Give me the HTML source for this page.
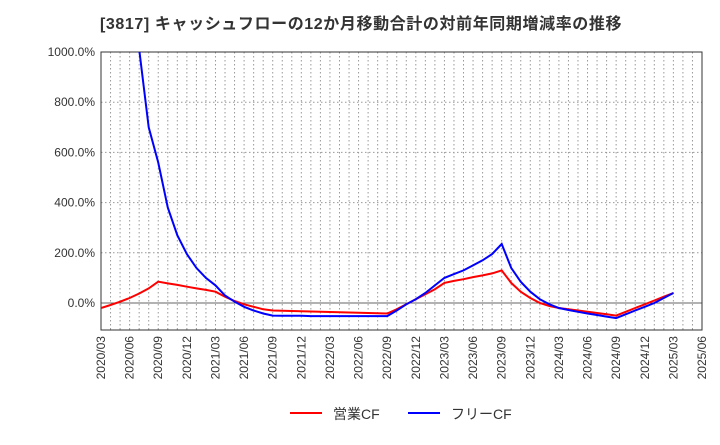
<!DOCTYPE html>
<html><head><meta charset="utf-8">
<style>
body{margin:0;background:#fff;font-family:"Liberation Sans","Noto Sans CJK JP",sans-serif;}
svg text{font-family:"Liberation Sans","Noto Sans CJK JP",sans-serif;}
</style></head>
<body>
<svg id="chart" width="720" height="440">
<text x="100" y="29" font-size="16" letter-spacing="0.6" font-weight="bold" fill="#333">[3817]  キャッシュフローの12か月移動合計の対前年同期増減率の推移</text>
<g id="grid"></g><g id="axes"></g><g id="series"></g>
<g>
<line x1="290" y1="413" x2="322" y2="413" stroke="#f00" stroke-width="2"/>
<text x="333" y="419" font-size="14" fill="#333">営業CF</text>
<line x1="408" y1="413" x2="440" y2="413" stroke="#00f" stroke-width="2"/>
<text x="451" y="419" font-size="14" fill="#333">フリーCF</text>
</g>
</svg>
<script>
const yTicks=[0,200,400,600,800,1000];
const xLabels=["2020/03","2020/06","2020/09","2020/12","2021/03","2021/06","2021/09","2021/12","2022/03","2022/06","2022/09","2022/12","2023/03","2023/06","2023/09","2023/12","2024/03","2024/06","2024/09","2024/12","2025/03","2025/06"];
const operatingCF=[-20,-8,5,20,38,58,85,78,72,65,58,52,45,25,8,-5,-15,-25,-30,-31,-32,-33,-34,-35,-36,-37,-38,-39,-40,-41,-42,-25,-5,15,35,55,80,88,95,103,110,118,130,80,45,20,0,-12,-20,-25,-30,-35,-40,-45,-50,-35,-20,-5,10,25,40];
const freeCF=[null,null,null,null,1010,700,560,380,270,195,140,100,70,30,5,-15,-30,-42,-50,-51,-51,-51,-52,-52,-52,-52,-52,-52,-52,-52,-52,-30,-5,15,40,70,100,115,130,150,170,195,235,140,85,45,15,-5,-20,-28,-35,-42,-48,-54,-60,-45,-30,-15,0,20,40];
const X0=101,X1=702,Y0=52,Y1=330,NM=63;
const xs=i=>X0+(X1-X0)*i/NM;
const ys=v=>303-(v)*(303-52)/1000;
const ns="http://www.w3.org/2000/svg";
function mk(t,a,p){const e=document.createElementNS(ns,t);for(const k in a)e.setAttribute(k,a[k]);p.appendChild(e);return e;}
const grid=document.getElementById('grid'),axes=document.getElementById('axes'),ser=document.getElementById('series');
for(let i=1;i<NM;i++){const l=mk('line',{x1:xs(i),x2:xs(i),y1:Y0,y2:Y1,stroke:'#999','stroke-dasharray':'1.5,2.5','stroke-width':1},grid);

}
yTicks.forEach(v=>{const l=mk('line',{x1:X0,x2:X1,y1:ys(v),y2:ys(v),stroke:v===0?'#666':'#999','stroke-dasharray':v===0?'none':'1.5,2.5','stroke-width':1},grid);


const t=mk('text',{x:X0-6,y:ys(v)+4,'text-anchor':'end','font-size':12,fill:'#333'},axes);t.textContent=v.toFixed(1)+'%';

});
const fr=mk('rect',{x:X0,y:Y0,width:X1-X0,height:Y1-Y0,fill:'none',stroke:'#333'},axes);


xLabels.forEach((s,i)=>{const x=xs(i*3);const t=mk('text',{x:x+4,y:Y1+6,'text-anchor':'end','font-size':12,fill:'#333',transform:`rotate(-90 ${x+4} ${Y1+6})`},axes);t.textContent=s;

});
const cp=mk('clipPath',{id:'cp'},ser);
mk('rect',{x:X0,y:Y0,width:X1-X0,height:Y1-Y0},cp);
function line(d,c,name){let p='';d.forEach((v,i)=>{if(v===null)return;p+=(p?'L':'M')+xs(i).toFixed(1)+','+ys(v).toFixed(1);});
const e=mk('path',{d:p,fill:'none',stroke:c,'stroke-width':2,'clip-path':'url(#cp)'},ser);

}
line(operatingCF,'#f00','operating-cf-line');
line(freeCF,'#00f','free-cf-line');
</script>
</body></html>
